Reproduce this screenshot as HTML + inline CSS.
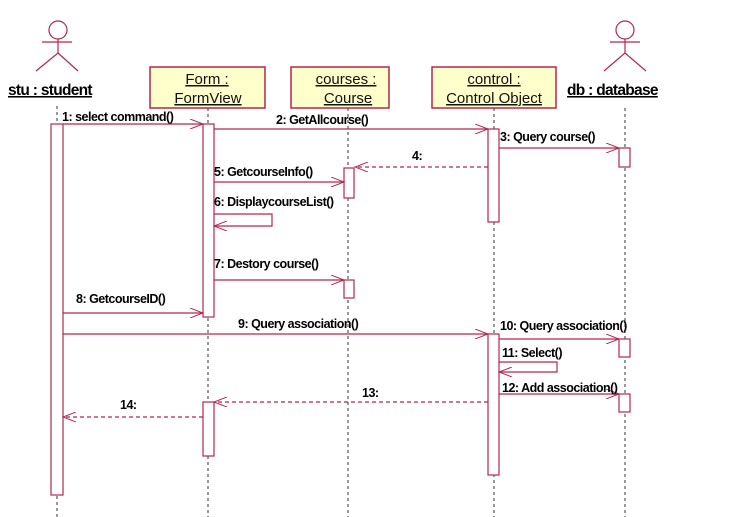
<!DOCTYPE html>
<html><head><style>body{margin:0;background:#fff}svg{display:block}</style></head><body>
<svg width="735" height="517" viewBox="0 0 735 517" xmlns="http://www.w3.org/2000/svg" font-family="Liberation Sans, Arial, sans-serif">
<defs>
<marker id="a" markerWidth="14" markerHeight="10" refX="13" refY="5" orient="auto" markerUnits="userSpaceOnUse"><path d="M0,0 L13,5 L0,10" fill="none" stroke="#b0284f" stroke-width="1"/></marker>
</defs>
<g stroke="#333" stroke-dasharray="3,3" stroke-width="1">
<line x1="57" y1="106" x2="57" y2="517"/>
<line x1="208" y1="108" x2="208" y2="517"/>
<line x1="348" y1="108" x2="348" y2="517"/>
<line x1="494" y1="108" x2="494" y2="517"/>
<line x1="625" y1="108" x2="625" y2="517"/>
</g>
<g stroke="#b0284f" fill="none" stroke-width="1.2">
<circle cx="58" cy="30" r="9"/><line x1="58" y1="39" x2="58" y2="53"/><line x1="42" y1="42" x2="72" y2="42"/><line x1="58" y1="53" x2="36" y2="71"/><line x1="58" y1="53" x2="78" y2="71"/>
<circle cx="625" cy="30" r="9"/><line x1="625" y1="39" x2="625" y2="53"/><line x1="610" y1="42" x2="640" y2="42"/><line x1="625" y1="53" x2="604" y2="71"/><line x1="625" y1="53" x2="646" y2="71"/>
</g>
<g stroke="#b0284f" fill="#ffffcc" stroke-width="1.5">
<rect x="150" y="67" width="115" height="41"/>
<rect x="291" y="67" width="98" height="41"/>
<rect x="432" y="67" width="124" height="41"/>
</g>
<g font-size="15" fill="#111" text-anchor="middle" text-decoration="underline">
<text x="207" y="84">Form :</text><text x="208" y="103">FormView</text>
<text x="346" y="84">courses :</text><text x="348" y="103">Course</text>
<text x="494" y="84">control :</text><text x="494" y="103">Control Object</text>
</g>
<g font-size="15.5" font-weight="bold" fill="#000" text-decoration="underline" letter-spacing="-0.7">
<text x="8" y="95">stu : student</text>
<text x="567" y="95">db : database</text>
</g>
<g stroke="#b0284f" fill="#fff" stroke-width="1.2">
<rect x="51" y="124" width="12" height="371"/>
<rect x="203" y="124" width="11" height="193"/>
<rect x="203" y="402" width="11" height="54"/>
<rect x="344" y="168" width="10" height="30"/>
<rect x="344" y="280" width="10" height="18"/>
<rect x="488" y="129" width="11" height="93"/>
<rect x="488" y="334" width="11" height="141"/>
<rect x="619" y="148" width="11" height="19"/>
<rect x="619" y="339" width="11" height="18"/>
<rect x="619" y="394" width="11" height="18"/>
</g>
<g stroke="#b0284f" fill="none" stroke-width="1.2" marker-end="url(#a)">
<line x1="63" y1="124" x2="203" y2="124"/>
<line x1="214" y1="129" x2="488" y2="129"/>
<line x1="499" y1="148" x2="619" y2="148"/>
<line x1="488" y1="167" x2="355" y2="167" stroke-dasharray="4,3"/>
<line x1="214" y1="182" x2="344" y2="182"/>
<polyline points="214,214 272,214 272,226 214,226"/>
<line x1="214" y1="280" x2="344" y2="280"/>
<line x1="63" y1="313" x2="203" y2="313"/>
<line x1="63" y1="334" x2="488" y2="334"/>
<line x1="499" y1="339" x2="619" y2="339"/>
<polyline points="499,362 557,362 557,372 499,372"/>
<line x1="499" y1="394" x2="619" y2="394"/>
<line x1="488" y1="402" x2="214" y2="402" stroke-dasharray="4,3"/>
<line x1="203" y1="417" x2="63" y2="417" stroke-dasharray="4,3"/>
</g>
<g font-size="12.5" font-weight="bold" fill="#000" letter-spacing="-0.5">
<text x="62" y="121">1: select command()</text>
<text x="276" y="124">2: GetAllcourse()</text>
<text x="500" y="141">3: Query course()</text>
<text x="412" y="160">4:</text>
<text x="214" y="176">5: GetcourseInfo()</text>
<text x="214" y="206">6: DisplaycourseList()</text>
<text x="214" y="268">7: Destory course()</text>
<text x="76" y="303">8: GetcourseID()</text>
<text x="238" y="328">9: Query association()</text>
<text x="500" y="330">10: Query association()</text>
<text x="502" y="357">11: Select()</text>
<text x="502" y="392">12: Add association()</text>
<text x="362" y="397">13:</text>
<text x="120" y="409">14:</text>
</g>
</svg>
</body></html>
